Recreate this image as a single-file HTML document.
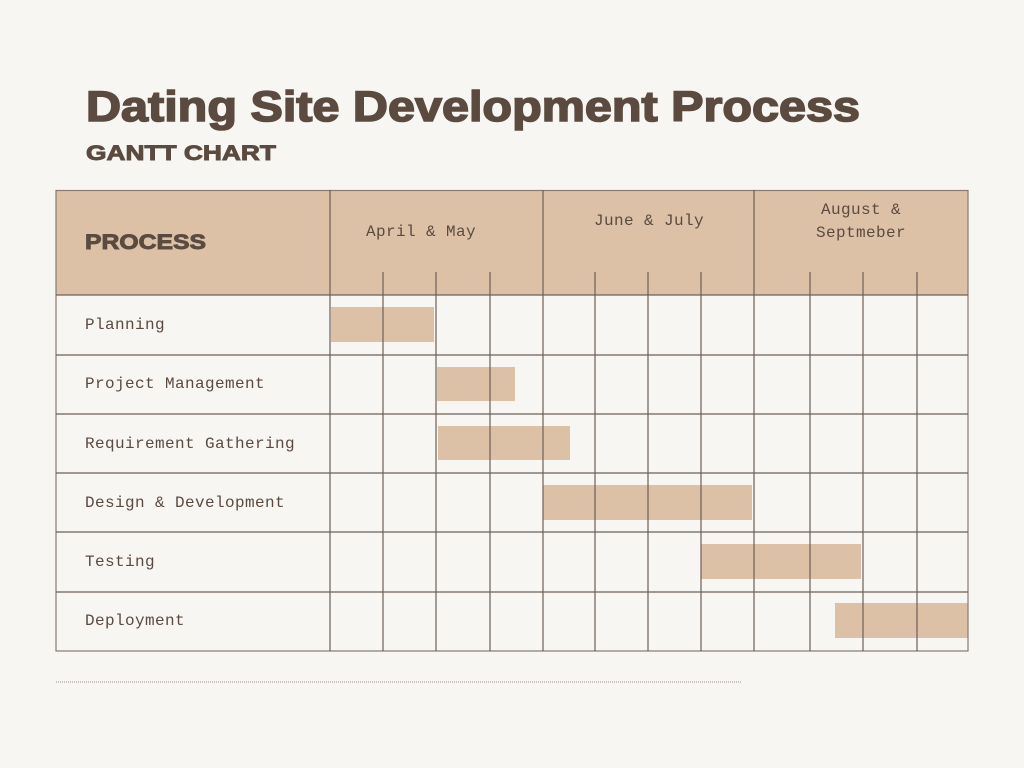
<!DOCTYPE html>
<html><head><style>
html,body{margin:0;padding:0;background:#f8f6f3;}
svg{display:block;}
.m{font-family:"Liberation Mono",monospace;font-size:16px;letter-spacing:0.4px;fill:#5b4a40;}
</style></head><body>
<svg width="1024" height="768" viewBox="0 0 1024 768">
<rect width="1024" height="768" fill="#f8f6f3"/>
<text x="86" y="121" font-family="Liberation Sans, sans-serif" font-weight="bold" font-size="43" fill="#5b4a40" stroke="#5b4a40" stroke-width="1.6" textLength="774" lengthAdjust="spacingAndGlyphs">Dating Site Development Process</text>
<text x="86" y="160" font-family="Liberation Sans, sans-serif" font-weight="bold" font-size="21" fill="#5b4a40" stroke="#5b4a40" stroke-width="0.9" textLength="190" lengthAdjust="spacingAndGlyphs">GANTT CHART</text>
<rect x="56" y="190" width="912" height="105" fill="#dcc1a7"/>
<g fill="#dcc1a7">
<rect x="331" y="307" width="103" height="35"/>
<rect x="437" y="367" width="78" height="34"/>
<rect x="438" y="426" width="132" height="34"/>
<rect x="543" y="485" width="209" height="35"/>
<rect x="701" y="544" width="160" height="35"/>
<rect x="835" y="603" width="133" height="35"/>
</g>
<g stroke="#6e5f57" stroke-width="1.2" fill="none">
<rect x="56" y="190.5" width="912" height="460.5" stroke="#8a7a70"/>
<line x1="56" y1="295" x2="968" y2="295"/>
<line x1="56" y1="355" x2="968" y2="355"/>
<line x1="56" y1="414" x2="968" y2="414"/>
<line x1="56" y1="473" x2="968" y2="473"/>
<line x1="56" y1="532" x2="968" y2="532"/>
<line x1="56" y1="592" x2="968" y2="592"/>
<line x1="330" y1="190" x2="330" y2="651"/>
<line x1="543" y1="190" x2="543" y2="651"/>
<line x1="754" y1="190" x2="754" y2="651"/>
<line x1="383" y1="272" x2="383" y2="651"/>
<line x1="436" y1="272" x2="436" y2="651"/>
<line x1="490" y1="272" x2="490" y2="651"/>
<line x1="595" y1="272" x2="595" y2="651"/>
<line x1="648" y1="272" x2="648" y2="651"/>
<line x1="701" y1="272" x2="701" y2="651"/>
<line x1="810" y1="272" x2="810" y2="651"/>
<line x1="863" y1="272" x2="863" y2="651"/>
<line x1="917" y1="272" x2="917" y2="651"/>
</g>
<text x="85" y="249" font-family="Liberation Sans, sans-serif" font-weight="bold" font-size="21" fill="#5b4a40" stroke="#5b4a40" stroke-width="0.9" textLength="121" lengthAdjust="spacingAndGlyphs">PROCESS</text>
<text class="m" x="421" y="236" text-anchor="middle">April &amp; May</text>
<text class="m" x="649" y="225" text-anchor="middle">June &amp; July</text>
<text class="m" x="861" y="214" text-anchor="middle">August &amp;</text>
<text class="m" x="861" y="237" text-anchor="middle">Septmeber</text>
<text class="m" x="85" y="329">Planning</text>
<text class="m" x="85" y="388">Project Management</text>
<text class="m" x="85" y="448">Requirement Gathering</text>
<text class="m" x="85" y="507">Design &amp; Development</text>
<text class="m" x="85" y="566">Testing</text>
<text class="m" x="85" y="625">Deployment</text>
<line x1="56" y1="682" x2="741" y2="682" stroke="#9a8f88" stroke-width="1" stroke-dasharray="1,1"/>
</svg>
</body></html>
